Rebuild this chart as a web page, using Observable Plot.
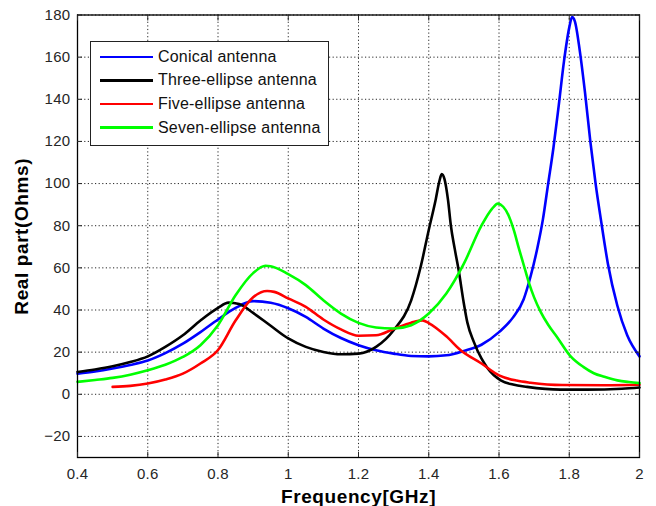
<!DOCTYPE html>
<html>
<head>
<meta charset="utf-8">
<script src="https://cdn.jsdelivr.net/npm/d3@7"></script>
<script src="https://cdn.jsdelivr.net/npm/@observablehq/plot@0.6"></script>
<style>
  html, body { margin: 0; padding: 0; background: #fff; }
  #wrap { position: relative; width: 656px; height: 506px; font-family: "Liberation Sans", Arial, sans-serif; }
  #wrap svg [aria-label="x-axis label"] text,
  #wrap svg [aria-label="y-axis label"] text { font-weight: bold; font-size: 19px; letter-spacing: 0.6px; fill: #000; }
  #wrap svg [aria-label="x-axis tick label"] text,
  #wrap svg [aria-label="y-axis tick label"] text { letter-spacing: 0.3px; }
  #legend { position: absolute; left: 90px; top: 41px; width: 237px; height: 100px; border: 1.5px solid #222; background: #fff; box-sizing: content-box; padding-top: 3px; }
  .row { display: flex; align-items: center; height: 23.6px; }
  .sw { width: 53px; height: 2.5px; margin-left: 9px; margin-right: 5px; }
  .lab { font-size: 16px; color: #111; white-space: nowrap; letter-spacing: 0.2px; }
</style>
</head>
<body>
<div id="wrap"></div>
<script>
// Series names and colours
const seriesNames = ["Conical antenna", "Three-ellipse antenna", "Five-ellipse antenna", "Seven-ellipse antenna"];
const seriesColors = ["#0000ff", "#000000", "#ff0000", "#00ff00"];

// Conical antenna
const freqConical = [0.4,0.45,0.5,0.55,0.6,0.65,0.7,0.75,0.8,0.85,0.9,0.95,1.0,1.05,1.1,1.15,1.2,1.25,1.3,1.35,1.4,1.45,1.5,1.55,1.6,1.64,1.67,1.69,1.71,1.725,1.74,1.755,1.77,1.785,1.8,1.808,1.816,1.83,1.845,1.86,1.875,1.89,1.91,1.937,1.965,2.0];
const realConical = [9.8,10.8,12.2,13.9,16,19.5,24,29.5,35.5,41,44.2,43.4,40.8,36.7,31.2,26.7,23.3,20.9,19.3,18.2,18,18.5,20.6,23.5,29.5,36.5,45,56,70,83,100,117,137,158,174,179,177,163,143,120,100,83,62,42,28,18];

// Three-ellipse antenna
const freqThree = [0.4,0.45,0.5,0.55,0.6,0.65,0.7,0.75,0.8,0.83,0.86,0.9,0.95,1.0,1.05,1.1,1.15,1.2,1.25,1.3,1.35,1.377,1.4,1.42,1.43,1.437,1.445,1.455,1.463,1.474,1.486,1.499,1.51,1.528,1.55,1.567,1.605,1.64,1.68,1.775,1.85,1.95,2.0];
const realThree = [10.6,11.8,13.3,15.3,18,22.5,28,35,41,43.5,42.8,38.6,32.5,26.5,22.5,20.1,19,19.3,22.5,30.4,44.6,60.5,78,92.6,101,104.5,102,92,80,69,58,44,34,25,17,12.5,6.6,4.6,3.5,2.2,2.2,2.6,3.2];

// Five-ellipse antenna
const freqFive = [0.5,0.55,0.6,0.65,0.7,0.75,0.8,0.85,0.9,0.94,0.96,1.0,1.05,1.1,1.15,1.2,1.25,1.3,1.35,1.382,1.4,1.45,1.49,1.55,1.6,1.65,1.69,1.78,1.9,2.0];
const realFive = [3.5,4,5.1,7,9.8,14.6,21,35,46,49,48.6,45.5,41.5,35.5,30.8,27.8,28,31,34,35.1,33.8,27.5,21,14.6,9,6.5,5.5,4.4,4.3,4.5];

// Seven-ellipse antenna
const freqSeven = [0.4,0.45,0.5,0.55,0.6,0.65,0.7,0.75,0.8,0.85,0.9,0.935,0.95,1.0,1.05,1.1,1.15,1.2,1.25,1.3,1.35,1.4,1.45,1.5,1.55,1.58,1.597,1.612,1.627,1.642,1.657,1.671,1.685,1.7,1.719,1.74,1.766,1.804,1.84,1.87,1.9,1.937,1.97,2.0];
const realSeven = [5.9,6.8,7.8,9.3,11.4,14,17.7,23.3,32.8,47,57.5,61,60.8,57,51.8,44.6,38.3,33.9,31.7,31.2,32.8,38.3,47.8,62,80,88,90.5,89,85,78,69,61,53,46,39,33,27,18,13,10,8.3,6.6,5.8,5.3];

// Axis ticks
const xTicks = [0.4,0.6,0.8,1.0,1.2,1.4,1.6,1.8,2.0];
const yTicks = [-20,0,20,40,60,80,100,120,140,160,180];

const freqs = [freqConical, freqThree, freqFive, freqSeven];
const reals = [realConical, realThree, realFive, realSeven];
const rows = [];
seriesNames.forEach((name, i) => {
  freqs[i].forEach((f, j) => rows.push({series: name, f, v: reals[i][j]}));
});

const fmtX = d => String(+d.toFixed(1));

const chart = Plot.plot({
  width: 656,
  height: 506,
  marginLeft: 77,
  marginRight: 17,
  marginTop: 14.5,
  marginBottom: 49,
  style: {fontFamily: "'Liberation Sans', Arial, sans-serif", fontSize: "15px", color: "#262626", background: "#fff"},
  x: {domain: [0.4, 2.0]},
  y: {domain: [-30, 180]},
  marks: [
    Plot.gridX(xTicks, {stroke: "#000", strokeOpacity: 0.85, strokeDasharray: "1.2,2.4"}),
    Plot.gridY(yTicks, {stroke: "#000", strokeOpacity: 0.85, strokeDasharray: "1.2,2.4"}),
    ...seriesNames.map((name, i) =>
      Plot.line(rows.filter(d => d.series === name), {x: "f", y: "v", stroke: seriesColors[i], strokeWidth: 2.6, curve: "monotone-x"})
    ),
    Plot.frame({stroke: "#000", strokeWidth: 1.3}),
    Plot.axisX(xTicks, {anchor: "bottom", tickSize: -5, tickPadding: 16, tickFormat: fmtX, label: "Frequency[GHz]", labelAnchor: "center", labelOffset: 45, labelArrow: "none"}),
    Plot.axisX(xTicks, {anchor: "top", tickSize: -5, tickFormat: () => "", label: null}),
    Plot.axisY(yTicks, {anchor: "left", tickSize: -5, tickPadding: 12, label: "Real part(Ohms)", labelAnchor: "center", labelOffset: 63, labelArrow: "none"}),
    Plot.axisY(yTicks, {anchor: "right", tickSize: -5, tickFormat: () => "", label: null})
  ]
});

const wrap = document.getElementById("wrap");
wrap.appendChild(chart);

const legend = document.createElement("div");
legend.id = "legend";
seriesNames.forEach((name, i) => {
  const r = document.createElement("div");
  r.className = "row";
  const s = document.createElement("div");
  s.className = "sw";
  s.style.background = seriesColors[i];
  const t = document.createElement("span");
  t.className = "lab";
  t.textContent = name;
  r.appendChild(s);
  r.appendChild(t);
  legend.appendChild(r);
});
wrap.appendChild(legend);
</script>
</body>
</html>
